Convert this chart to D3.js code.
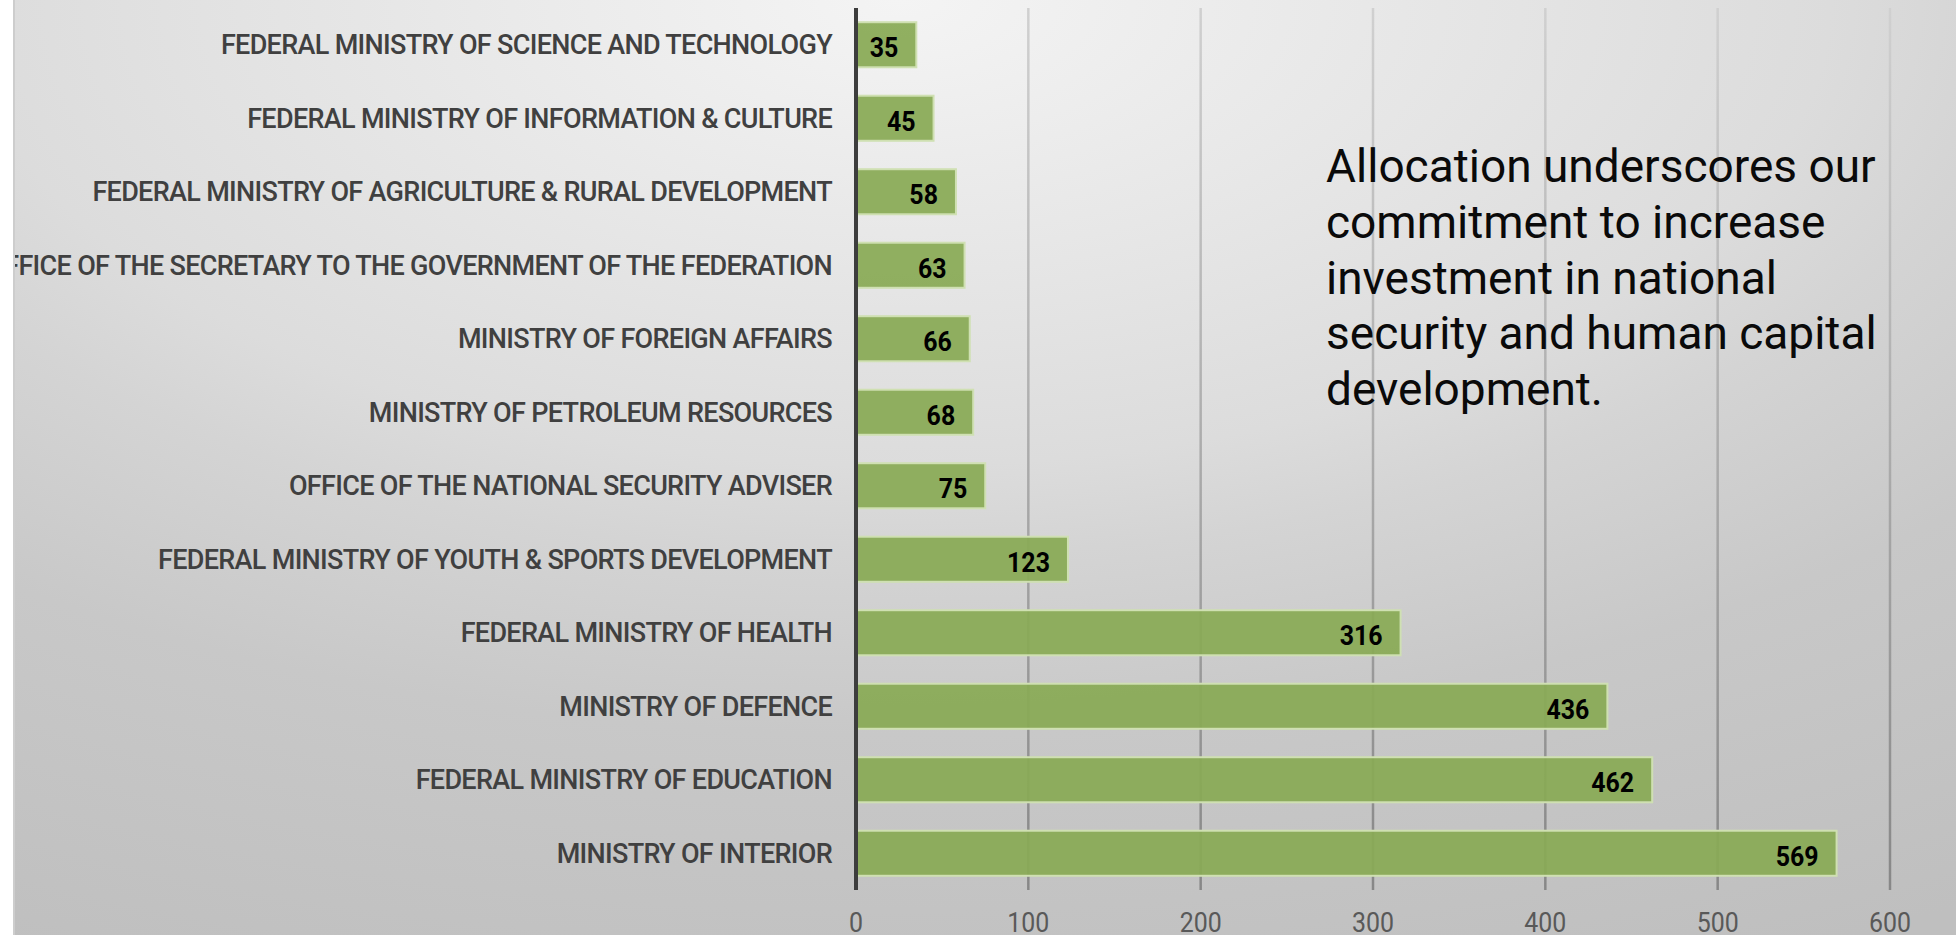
<!DOCTYPE html>
<html>
<head>
<meta charset="utf-8">
<script src="https://cdn.jsdelivr.net/npm/d3@7/dist/d3.min.js"></script>
<style>
  html, body { margin: 0; padding: 0; background: #ffffff; overflow: hidden; }
  svg { display: block; }
  text { font-family: Roboto, "Noto Sans", sans-serif; }
</style>
</head>
<body>
<svg id="chart" width="1956" height="935"></svg>
<script>
// ---- data ----
const categories = [
  "FEDERAL MINISTRY OF SCIENCE AND TECHNOLOGY",
  "FEDERAL MINISTRY OF INFORMATION & CULTURE",
  "FEDERAL MINISTRY OF AGRICULTURE & RURAL DEVELOPMENT",
  "OFFICE OF THE SECRETARY TO THE GOVERNMENT OF THE FEDERATION",
  "MINISTRY OF FOREIGN AFFAIRS",
  "MINISTRY OF PETROLEUM RESOURCES",
  "OFFICE OF THE NATIONAL SECURITY ADVISER",
  "FEDERAL MINISTRY OF YOUTH & SPORTS DEVELOPMENT",
  "FEDERAL MINISTRY OF HEALTH",
  "MINISTRY OF DEFENCE",
  "FEDERAL MINISTRY OF EDUCATION",
  "MINISTRY OF INTERIOR"
];
const values = [35, 45, 58, 63, 66, 68, 75, 123, 316, 436, 462, 569];
const xTicks = [0, 100, 200, 300, 400, 500, 600];
const noteLines = [
  "Allocation underscores our",
  "commitment to increase",
  "investment in national",
  "security and human capital",
  "development."
];

// ---- layout ----
const W = 1956, H = 935;
const svg = d3.select("#chart");
const defs = svg.append("defs");

const bgRad = defs.append("radialGradient").attr("id", "bgRad")
  .attr("gradientUnits", "userSpaceOnUse")
  .attr("cx", 0).attr("cy", 0).attr("r", 1)
  .attr("gradientTransform", "translate(900,0) scale(2100,1050)");
[[0, "#f4f4f4"], [0.443, "#dcdcdc"], [0.529, "#d4d4d4"], [0.7, "#c8c8c8"], [1, "#bfbfbf"]]
  .forEach(s => bgRad.append("stop").attr("offset", s[0]).attr("stop-color", s[1]));

const gridGrad = defs.append("linearGradient").attr("id", "gridGrad")
  .attr("gradientUnits", "userSpaceOnUse")
  .attr("x1", 0).attr("y1", 8).attr("x2", 0).attr("y2", 890);
gridGrad.append("stop").attr("offset", 0).attr("stop-color", "#d0d0d0");
gridGrad.append("stop").attr("offset", 1).attr("stop-color", "#878787");

defs.append("clipPath").attr("id", "areaClip")
  .append("rect").attr("x", 15).attr("y", 0).attr("width", W - 15).attr("height", H);

// background
svg.append("rect").attr("x", 0).attr("y", 0).attr("width", W).attr("height", H).attr("fill", "#ffffff");
svg.append("rect").attr("x", 13).attr("y", 0).attr("width", W - 13).attr("height", H).attr("fill", "url(#bgRad)");
svg.append("line").attr("x1", 14).attr("x2", 14).attr("y1", 0).attr("y2", H)
  .attr("stroke", "#cdcdcd").attr("stroke-width", 2);

const x = d3.scaleLinear().domain([0, 600]).range([856, 1890]);
const y = d3.scaleBand().domain(categories).range([8, 890])
  .paddingInner(0.387).paddingOuter(0.1935);

// gridlines
svg.append("g").selectAll("line").data(xTicks.filter(t => t > 0)).join("line")
  .attr("x1", d => x(d)).attr("x2", d => x(d))
  .attr("y1", 8).attr("y2", 890)
  .attr("stroke", "url(#gridGrad)").attr("stroke-width", 2.5);

// bars
svg.append("g").selectAll("rect").data(values).join("rect")
  .attr("x", x(0))
  .attr("y", (d, i) => y(categories[i]))
  .attr("width", d => x(d) - x(0))
  .attr("height", y.bandwidth())
  .attr("fill", "#89aa55")
  .attr("fill-opacity", 0.93)
  .attr("stroke", "#cfe0b2")
  .attr("stroke-width", 2);

// axis line at 0
svg.append("line").attr("x1", x(0)).attr("x2", x(0)).attr("y1", 8).attr("y2", 890)
  .attr("stroke", "#3d3d3d").attr("stroke-width", 4);

// value labels
svg.append("g").selectAll("text").data(values).join("text")
  .attr("transform", (d, i) => `translate(${x(d) - 18},${y(categories[i]) + y.bandwidth() / 2 + 12.5}) scale(0.89,1)`)
  .attr("text-anchor", "end")
  .attr("font-size", 28)
  .attr("font-weight", 700)
  .attr("fill", "#000000")
  .text(d => d);

// category labels
svg.append("g").attr("clip-path", "url(#areaClip)")
  .selectAll("text").data(categories).join("text")
  .attr("x", 832)
  .attr("y", d => y(d) + y.bandwidth() / 2 + 9.5)
  .attr("text-anchor", "end")
  .attr("font-size", 27)
  .attr("font-weight", 500)
  .attr("letter-spacing", -0.68)
  .attr("fill", "#404040")
  .text(d => d);

// x tick labels
svg.append("g").selectAll("text").data(xTicks).join("text")
  .attr("transform", d => `translate(${x(d)},932) scale(0.89,1)`)
  .attr("text-anchor", "middle")
  .attr("font-size", 28)
  .attr("fill", "#595959")
  .text(d => d);

// annotation
svg.append("g").selectAll("text").data(noteLines).join("text")
  .attr("x", 1326)
  .attr("y", (d, i) => 182 + i * 55.75)
  .attr("font-size", 46)
  .attr("fill", "#0a0a0a")
  .text(d => d);
</script>
</body>
</html>
